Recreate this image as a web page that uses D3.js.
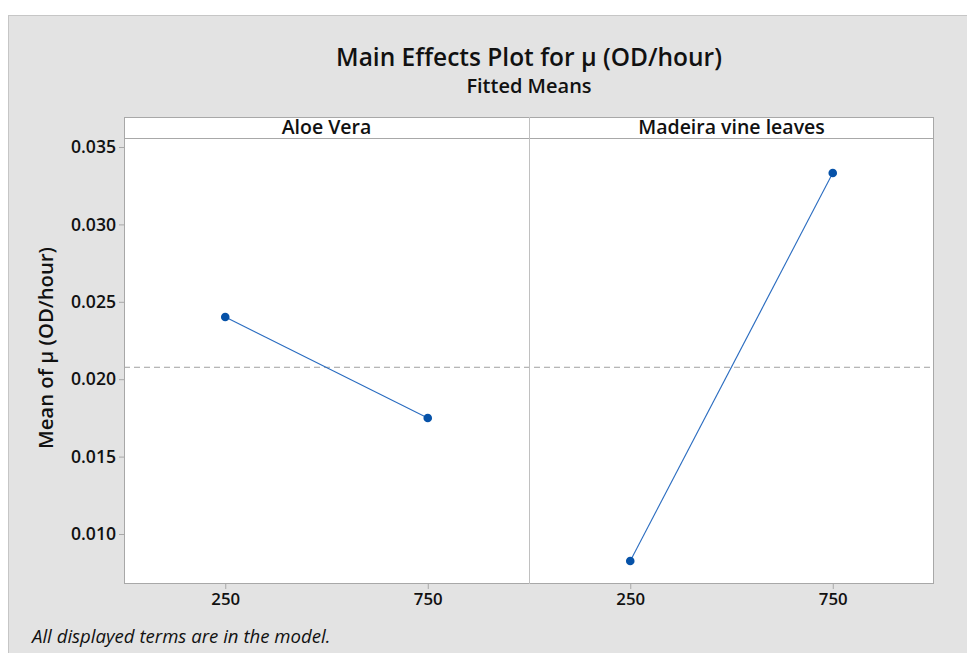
<!DOCTYPE html>
<html>
<head>
<meta charset="utf-8">
<script src="https://cdn.jsdelivr.net/npm/d3@7"></script>
<style>
  html, body { margin: 0; padding: 0; background: #ffffff; }
  svg { display: block; }
  text { font-family: "Open Sans", "Noto Sans", sans-serif; fill: #111; }
</style>
</head>
<body>
<script>
// ---- data ----
const panels = ["Aloe Vera", "Madeira vine leaves"];
const levels = [250, 750];
const aloeVeraMeans = [0.02402, 0.01749];
const madeiraMeans = [0.00826, 0.03332];
const overallMean = 0.02077;
const yTicks = [0.010, 0.015, 0.020, 0.025, 0.030, 0.035];
const xTicks = [250, 750];
const seriesByPanel = [aloeVeraMeans, madeiraMeans];

const W = 967, H = 653;
const svg = d3.select("body").append("svg").attr("width", W).attr("height", H);

// outer gray background
svg.append("rect").attr("x", 8.5).attr("y", 15.5).attr("width", W).attr("height", H)
  .attr("fill", "#e3e3e3").attr("stroke", "#c6c6c6").attr("stroke-width", 1);

// layout
const plotLeft = 124, plotRight = 934, stripTop = 117, plotTop = 138, plotBottom = 584;
const panelW = (plotRight - plotLeft) / panels.length;

const y = d3.scaleLinear().domain([0.010, 0.035]).range([534, 147]);

// titles
svg.append("text").attr("x", 529).attr("y", 66).attr("text-anchor", "middle")
  .style("font-size", "24.5px").style("font-weight", 600)
  .text("Main Effects Plot for μ (OD/hour)");
svg.append("text").attr("x", 529).attr("y", 93).attr("text-anchor", "middle")
  .style("font-size", "20px").style("font-weight", 600)
  .text("Fitted Means");

// plot background
svg.append("rect").attr("x", plotLeft).attr("y", stripTop)
  .attr("width", plotRight - plotLeft).attr("height", plotBottom - stripTop)
  .attr("fill", "#ffffff");

// y axis
const yAxis = svg.append("g").attr("transform", `translate(${plotLeft},0)`)
  .call(d3.axisLeft(y).tickValues(yTicks).tickFormat(d3.format(".3f")).tickSize(5).tickPadding(3));
yAxis.select(".domain").remove();
yAxis.selectAll(".tick line").attr("stroke", "#a8a8a8");
yAxis.selectAll(".tick text").style("font-size", "17.6px").style("font-weight", 600)
  .style("font-family", '"Open Sans", sans-serif').attr("fill", "#111");

// y label
svg.append("text").attr("transform", "translate(53,348) rotate(-90)")
  .attr("text-anchor", "middle").style("font-size", "20.3px").style("font-weight", 600)
  .text("Mean of μ (OD/hour)");

// overall mean reference line
svg.append("line").attr("x1", plotLeft).attr("x2", plotRight)
  .attr("y1", y(overallMean)).attr("y2", y(overallMean))
  .attr("stroke", "#a0a0a0").attr("stroke-width", 1).attr("stroke-dasharray", "6,4");

panels.forEach((name, i) => {
  const left = plotLeft + i * panelW;
  const x = d3.scaleLinear().domain([0, 1000]).range([left, left + panelW]);
  const g = svg.append("g");

  // x axis
  const xAxis = g.append("g").attr("transform", `translate(0,${plotBottom})`)
    .call(d3.axisBottom(x).tickValues(xTicks).tickFormat(d3.format("d")).tickSize(5).tickPadding(4));
  xAxis.select(".domain").remove();
  xAxis.selectAll(".tick line").attr("stroke", "#a8a8a8");
  xAxis.selectAll(".tick text").style("font-size", "16.8px").style("font-weight", 600)
    .style("font-family", '"Open Sans", sans-serif').attr("fill", "#111");

  // strip label
  g.append("text").attr("x", left + panelW / 2).attr("y", 134).attr("text-anchor", "middle")
    .style("font-size", "19.5px").style("font-weight", 600).text(name);

  const pts = levels.map((lv, k) => ({ lv, v: seriesByPanel[i][k] }));
  g.append("path").datum(pts)
    .attr("d", d3.line().x(d => x(d.lv)).y(d => y(d.v)))
    .attr("fill", "none").attr("stroke", "#2a6cc0").attr("stroke-width", 1.1);
  g.selectAll("circle").data(pts).enter().append("circle")
    .attr("cx", d => x(d.lv)).attr("cy", d => y(d.v)).attr("r", 4.3)
    .attr("fill", "#0652a8");
});

// frames
const frame = svg.append("g").attr("fill", "none").attr("stroke", "#a8a8a8").attr("stroke-width", 1);
frame.append("rect").attr("x", plotLeft + 0.5).attr("y", stripTop + 0.5)
  .attr("width", plotRight - plotLeft - 1).attr("height", plotBottom - stripTop - 1);
frame.append("line").attr("x1", plotLeft).attr("x2", plotRight)
  .attr("y1", plotTop + 0.5).attr("y2", plotTop + 0.5);
frame.append("line").attr("x1", plotLeft + panelW + 0.5).attr("x2", plotLeft + panelW + 0.5)
  .attr("y1", stripTop).attr("y2", plotBottom).attr("stroke", "#c0c0c0");

// footnote
svg.append("text").attr("x", 32).attr("y", 643)
  .style("font-size", "18.6px").style("font-style", "italic")
  .text("All displayed terms are in the model.");
</script>
</body>
</html>
